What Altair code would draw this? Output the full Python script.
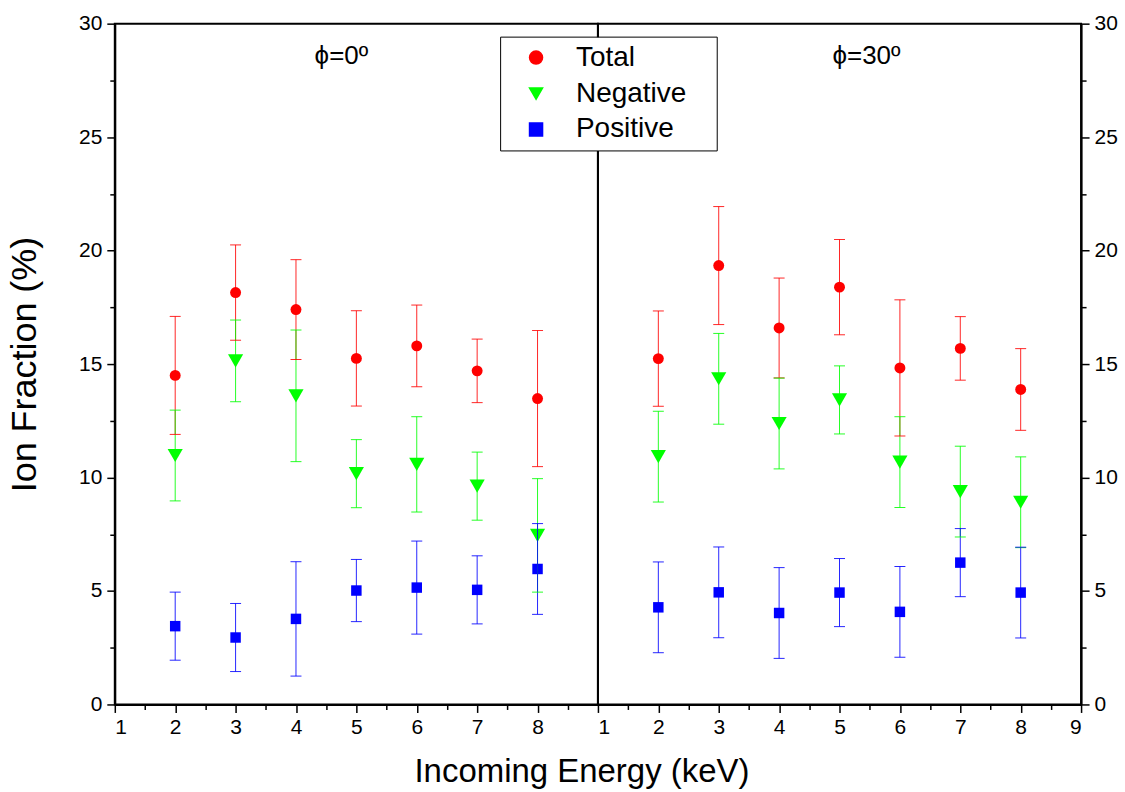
import altair as alt
import pandas as pd

# ---------------- data ----------------
energy = [2, 3, 4, 5, 6, 7, 8]

total_phi0 = [14.5, 18.15, 17.4, 15.25, 15.8, 14.7, 13.48]
total_phi0_err = [2.6, 2.1, 2.2, 2.1, 1.8, 1.4, 3.0]
neg_phi0 = [10.97, 15.14, 13.6, 10.17, 10.58, 9.62, 7.45]
neg_phi0_err = [2.0, 1.8, 2.9, 1.5, 2.1, 1.5, 2.5]
pos_phi0 = [3.45, 2.95, 3.77, 5.02, 5.15, 5.05, 5.97]
pos_phi0_err = [1.5, 1.5, 2.52, 1.37, 2.05, 1.5, 2.0]

total_phi30 = [15.24, 19.34, 16.59, 18.39, 14.83, 15.69, 13.88]
total_phi30_err = [2.1, 2.6, 2.2, 2.1, 3.0, 1.4, 1.8]
neg_phi30 = [10.92, 14.35, 12.38, 13.42, 10.68, 9.38, 8.91]
neg_phi30_err = [2.0, 2.0, 2.0, 1.5, 2.0, 2.0, 2.0]
pos_phi30 = [4.28, 4.94, 4.03, 4.93, 4.08, 6.25, 4.93]
pos_phi30_err = [2.0, 2.0, 2.0, 1.5, 2.0, 1.5, 2.0]

series_names = ["Total", "Negative", "Positive"]
series_colors = ["#ff0000", "#00ff00", "#0000ff"]
series_shapes = ["circle", "triangle-down", "square"]
series_sizes = [120, 230, 110]
panel_phi = ["0", "30"]
panel_labels = ["\u03d5=0\u00ba", "\u03d5=30\u00ba"]

x_major_left = [1, 2, 3, 4, 5, 6, 7, 8]
x_major_right = [1, 2, 3, 4, 5, 6, 7, 8, 9]
x_minor_ticks = [1.5, 2.5, 3.5, 4.5, 5.5, 6.5, 7.5, 8.5]
y_major_ticks = [0, 5, 10, 15, 20, 25, 30]
y_minor_ticks = [2.5, 7.5, 12.5, 17.5, 22.5, 27.5]

rows = []
for phi, groups in [
    ("0", [("Total", total_phi0, total_phi0_err),
           ("Negative", neg_phi0, neg_phi0_err),
           ("Positive", pos_phi0, pos_phi0_err)]),
    ("30", [("Total", total_phi30, total_phi30_err),
            ("Negative", neg_phi30, neg_phi30_err),
            ("Positive", pos_phi30, pos_phi30_err)]),
]:
    for name, vals, errs in groups:
        for e, v, s in zip(energy, vals, errs):
            rows.append({"phi": phi, "series": name, "energy": e, "value": v, "err": s})
df = pd.DataFrame(rows)

FONT = "Liberation Sans"
W, H = 484, 682

xscale = alt.Scale(domain=[1, 9], nice=False, zero=False)
yscale = alt.Scale(domain=[0, 30], nice=False, zero=False)
cscale = alt.Scale(domain=series_names, range=series_colors)
shscale = alt.Scale(domain=series_names, range=series_shapes)

legend = alt.Legend(
    orient="none", legendX=386, legendY=13, title=None, zindex=5,
    strokeColor="black", fillColor="white", padding=7,
    symbolOffset=15, labelOffset=26, rowPadding=8,
    labelFont=FONT, labelFontSize=28, labelColor="black",
    symbolSize=170, labelLimit=400,
    labelExpr="datum.label + '\u00a0\u00a0\u00a0\u200b'",
)


def panel(idx, yorient, xvalues, ytitle):
    phi = panel_phi[idx]
    base = alt.Chart(df).transform_filter(alt.datum.phi == phi).transform_calculate(
        lo="datum.value - datum.err", hi="datum.value + datum.err"
    )
    x_major = alt.X("energy:Q", scale=xscale, axis=alt.Axis(
        orient="bottom", values=xvalues, tickSize=8,
        title=None, labelPadding=4, grid=False))
    x_minor = alt.X("energy:Q", scale=xscale, axis=alt.Axis(
        orient="bottom", values=x_minor_ticks, tickSize=5, labels=False,
        domain=False, title=None, grid=False))
    y_major_axis = alt.Axis(
        orient=yorient, values=y_major_ticks, tickSize=8, labelPadding=5,
        title=ytitle if ytitle else None, titlePadding=35, titleFontSize=36, grid=False)
    y_minor_axis = alt.Axis(
        orient=yorient, values=y_minor_ticks, tickSize=5, labels=False,
        domain=False, title=None, grid=False)

    color_nl = alt.Color("series:N", scale=cscale, legend=None)

    # marker layers first (they carry the legend), one per series for its own size
    pts = []
    for i, name in enumerate(series_names):
        pts.append(
            base.transform_filter(alt.datum.series == name)
            .mark_point(filled=True, opacity=1, size=series_sizes[i])
            .encode(
                x=x_major if i == 0 else alt.X("energy:Q", scale=xscale, axis=None),
                y=alt.Y("value:Q", scale=yscale, axis=y_major_axis) if i == 0
                else alt.Y("value:Q", scale=yscale, axis=None),
                color=alt.Color("series:N", scale=cscale, legend=legend),
                shape=alt.Shape("series:N", scale=shscale, legend=legend),
            )
        )

    rules = base.mark_rule(strokeWidth=1, opacity=0.85).encode(
        x=x_minor,
        y=alt.Y("lo:Q", scale=yscale, axis=y_minor_axis),
        y2="hi:Q",
        color=color_nl,
    )
    cap_lo = base.mark_tick(orient="horizontal", size=11, thickness=1, opacity=0.85).encode(
        x=alt.X("energy:Q", scale=xscale, axis=None),
        y=alt.Y("lo:Q", scale=yscale, axis=None),
        color=color_nl,
    )
    cap_hi = base.mark_tick(orient="horizontal", size=11, thickness=1, opacity=0.85).encode(
        x=alt.X("energy:Q", scale=xscale, axis=None),
        y=alt.Y("hi:Q", scale=yscale, axis=None),
        color=color_nl,
    )
    lab = alt.Chart(pd.DataFrame({"label": [panel_labels[idx]]})).mark_text(
        font=FONT, fontSize=26, color="black", align="center", baseline="alphabetic"
    ).encode(
        x=alt.value(227 if idx == 0 else 269),
        y=alt.value(40),
        text="label:N",
    )
    return alt.layer(*pts, rules, cap_lo, cap_hi, lab).resolve_axis(
        x="independent", y="independent"
    ).properties(width=W, height=H)


left = panel(0, "left", x_major_left, "Ion Fraction (%)")
right = panel(1, "right", x_major_right, None)

chart = alt.hconcat(left, right, spacing=0, bounds="flush").resolve_scale(
    color="shared", shape="shared"
).resolve_legend(
    color="shared", shape="shared"
).properties(
    title=alt.TitleParams(
        "Incoming Energy (keV)", orient="bottom", anchor="middle",
        font=FONT, fontSize=33, fontWeight="normal", color="black", offset=18, dx=20
    ),
    padding={"left": 5, "top": 11, "right": 6, "bottom": 0},
    background="white",
).configure_view(
    stroke="black", strokeWidth=2
).configure_axis(
    domainColor="black", domainWidth=2, tickColor="black", tickWidth=1.5,
    labelColor="black", labelFont=FONT, labelFontSize=21,
    titleFont=FONT, titleFontSize=34, titleFontWeight="normal", titleColor="black",
)

chart.save("out.html", embed_options={"renderer": "svg", "actions": False})
